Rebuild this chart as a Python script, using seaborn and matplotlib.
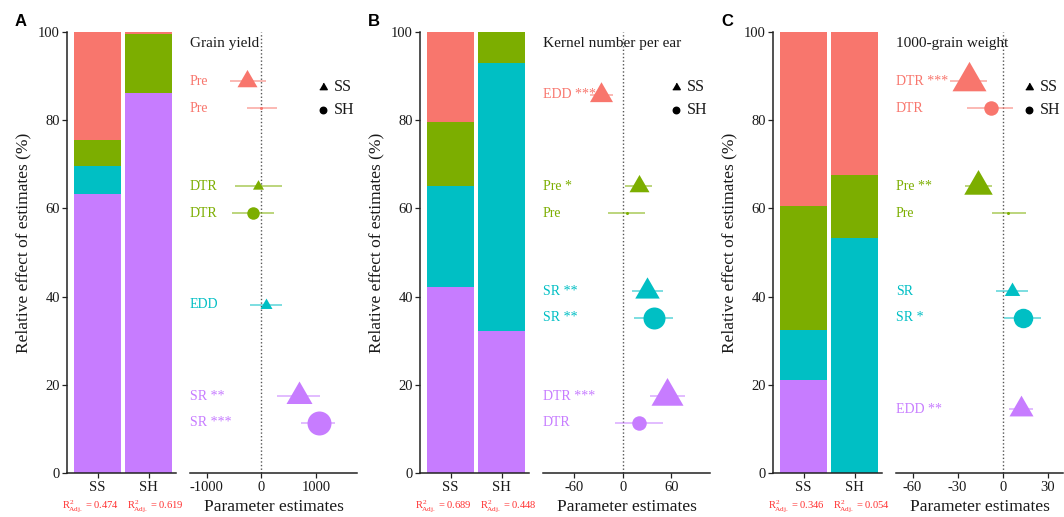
import numpy as np
import pandas as pd
import matplotlib
matplotlib.use("Agg")
import matplotlib.pyplot as plt
import matplotlib.transforms as mtransforms
from matplotlib.lines import Line2D
import seaborn as sns

# ---------------- data ----------------
models = ["SS", "SH"]
rank_colors = ["#F8766D", "#7CAE00", "#00BFC4", "#C77CFF"]  # rank 1..4 (top to bottom)

# A: grain yield
a_title = "Grain yield"
a_vars = ["Pre", "DTR", "EDD", "SR"]
a_share_ss = [24.5, 5.9, 6.3, 63.3]
a_share_sh = [0.5, 13.3, 0.0, 86.2]
a_est_ss = [-262, -59, 79, 691]
a_lo_ss = [-582, -477, -202, 288]
a_hi_ss = [86, 367, 367, 1070]
a_sig_ss = ["", "", "", "**"]
a_est_sh = [0, -150, np.nan, 1046]
a_lo_sh = [-262, -538, np.nan, 716]
a_hi_sh = [288, 238, np.nan, 1345]
a_sig_sh = ["", "", "", "***"]
a_r2 = ["0.474", "0.619"]
a_ticks = [-1000, 0, 1000]
a_xlim = (-1310, 1750)

# B: kernel number per ear
b_title = "Kernel number per ear"
b_vars = ["EDD", "Pre", "SR", "DTR"]
b_share_ss = [20.4, 14.5, 22.9, 42.2]
b_share_sh = [0.0, 7.0, 60.8, 32.2]
b_est_ss = [-26.6, 19.4, 29.9, 55.0]
b_lo_ss = [-41.0, 3.1, 11.4, 34.0]
b_hi_ss = [-12.1, 36.0, 49.3, 77.4]
b_sig_ss = ["***", "*", "**", "***"]
b_est_sh = [np.nan, 5.1, 38.1, 20.4]
b_lo_sh = [np.nan, -18.0, 13.4, -9.3]
b_hi_sh = [np.nan, 27.8, 61.6, 49.3]
b_sig_sh = ["", "", "**", ""]
b_r2 = ["0.689", "0.448"]
b_ticks = [-60, 0, 60]
b_xlim = (-99, 108)

# C: 1000-grain weight
c_title = "1000-grain weight"
c_vars = ["DTR", "Pre", "SR", "EDD"]
c_share_ss = [39.5, 28.1, 11.3, 21.1]
c_share_sh = [32.5, 14.2, 53.3, 0.0]
c_est_ss = [-22.2, -16.5, 6.0, 12.2]
c_lo_ss = [-35.3, -25.3, -4.7, 4.0]
c_hi_ss = [-10.2, -6.9, 16.9, 19.8]
c_sig_ss = ["***", "**", "", "**"]
c_est_sh = [-8.0, 3.5, 13.3, np.nan]
c_lo_sh = [-23.5, -7.5, 0.7, np.nan]
c_hi_sh = [6.9, 15.3, 25.1, np.nan]
c_sig_sh = ["", "", "*", ""]
c_r2 = ["0.346", "0.054"]
c_ticks = [-60, -30, 0, 30]
c_xlim = (-71, 40)

# ---------------- marker styling (pixel widths) ----------------
a_tri_px = [20, 11, 12, 26]
a_dot_px = [3, 12.5, 0, 24]
b_tri_px = [23, 20, 24.5, 32]
b_dot_px = [0, 3, 22, 14.5]
c_tri_px = [34, 28.5, 15.5, 24]
c_dot_px = [14.5, 3, 19.5, 0]

panels = [
    dict(letter="A", title=a_title, vars=a_vars, share_ss=a_share_ss, share_sh=a_share_sh,
         est_ss=a_est_ss, lo_ss=a_lo_ss, hi_ss=a_hi_ss, sig_ss=a_sig_ss,
         est_sh=a_est_sh, lo_sh=a_lo_sh, hi_sh=a_hi_sh, sig_sh=a_sig_sh,
         r2=a_r2, ticks=a_ticks, xlim=a_xlim, tri=a_tri_px, dot=a_dot_px),
    dict(letter="B", title=b_title, vars=b_vars, share_ss=b_share_ss, share_sh=b_share_sh,
         est_ss=b_est_ss, lo_ss=b_lo_ss, hi_ss=b_hi_ss, sig_ss=b_sig_ss,
         est_sh=b_est_sh, lo_sh=b_lo_sh, hi_sh=b_hi_sh, sig_sh=b_sig_sh,
         r2=b_r2, ticks=b_ticks, xlim=b_xlim, tri=b_tri_px, dot=b_dot_px),
    dict(letter="C", title=c_title, vars=c_vars, share_ss=c_share_ss, share_sh=c_share_sh,
         est_ss=c_est_ss, lo_ss=c_lo_ss, hi_ss=c_hi_ss, sig_ss=c_sig_ss,
         est_sh=c_est_sh, lo_sh=c_lo_sh, hi_sh=c_hi_sh, sig_sh=c_sig_sh,
         r2=c_r2, ticks=c_ticks, xlim=c_xlim, tri=c_tri_px, dot=c_dot_px),
]

# ---------------- style ----------------
sns.set_theme(style="ticks")
plt.rcParams["font.family"] = ["Liberation Serif", "DejaVu Serif"]
plt.rcParams["mathtext.fontset"] = "custom"
plt.rcParams["mathtext.rm"] = "Liberation Serif"
plt.rcParams["mathtext.it"] = "Liberation Serif:italic"
plt.rcParams["mathtext.bf"] = "Liberation Serif:bold"
plt.rcParams["axes.unicode_minus"] = False

INK = "#1a1a1a"
SPINE = "#222222"
W, H = 1064, 517
PX2PT = 72 / 100

# equilateral triangle centred on its centroid
TRI = [(-1.0, -0.57735), (1.0, -0.57735), (0.0, 1.1547)]
TRI_SCALE = 0.866  # rendered width relative to marker size


def rect(x0, y0, x1, y1):
    return [x0 / W, 1 - y1 / H, (x1 - x0) / W, (y1 - y0) / H]


def tri_area(px):
    return (px * PX2PT / TRI_SCALE) ** 2


def dot_area(px):
    return (px * PX2PT) ** 2


fig = plt.figure(figsize=(W / 100, H / 100), dpi=100)

slot_centres = [85.8 - 23.8 * i for i in range(4)]
pair_gap = 3.05

for k, p in enumerate(panels):
    off = 353 * k

    # ---- stacked relative-effect bars ----
    axb = fig.add_axes(rect(67 + off, 32, 176 + off, 473))
    shares = np.array([p["share_ss"], p["share_sh"]])  # rows: model, cols: rank
    # stack bottom -> top is rank 4 -> rank 1; draw cumulative heights from the top down
    for r in range(4):
        cum = shares[:, r:].sum(axis=1)
        df = pd.DataFrame({"model": models, "value": cum})
        sns.barplot(data=df, x="model", y="value", order=models, color=rank_colors[r],
                    saturation=1, width=0.92, errorbar=None, linewidth=0,
                    edgecolor="none", ax=axb)
    axb.set_xlim(-0.598, 1.539)
    axb.set_ylim(0, 100)
    axb.set_yticks([0, 20, 40, 60, 80, 100])
    axb.set_xlabel("")
    axb.set_ylabel("")
    for s in ["top", "right"]:
        axb.spines[s].set_visible(False)
    for s in ["left", "bottom"]:
        axb.spines[s].set_color(SPINE)
        axb.spines[s].set_linewidth(1.1)
    axb.tick_params(axis="y", length=3.8, width=0.9, pad=1.2, labelsize=10.5,
                    colors=SPINE, labelcolor=INK)
    axb.tick_params(axis="x", length=3.8, width=0.9, pad=2.0, labelsize=10.5,
                    colors=SPINE, labelcolor=INK)

    # adjusted R^2 under each bar
    tr = mtransforms.blended_transform_factory(axb.transData, fig.transFigure)
    for xi, val in zip([-0.14, 1.14], p["r2"]):
        axb.text(xi, 1 - 506 / H, r"$\mathrm{R}^{2}_{\!\mathrm{Adj.}}$ = " + val,
                 transform=tr, ha="center", va="center", fontsize=7.6,
                 color="#FF3030", clip_on=False)

    fig.text((23 + off) / W, 1 - 243 / H, "Relative effect of estimates (%)",
             rotation=90, ha="center", va="center", fontsize=12.5, color=INK)
    fig.text((21 + off) / W, 1 - 21 / H, p["letter"], ha="center", va="center",
             fontsize=12, fontweight="bold", family="Liberation Sans", color="black")

    # ---- parameter estimates ----
    axf = fig.add_axes(rect(190 + off, 32, 357 + off, 473))
    axf.set_xlim(*p["xlim"])
    axf.set_ylim(0, 100)
    axf.axvline(0, color="#555555", lw=1.0, ls=(0, (1, 1.6)), zorder=1)
    ytr = mtransforms.blended_transform_factory(axf.transAxes, axf.transData)

    for i, var in enumerate(p["vars"]):
        col = rank_colors[i]
        has_ss = not np.isnan(p["est_ss"][i])
        has_sh = not np.isnan(p["est_sh"][i])
        if has_ss and has_sh:
            ys = [slot_centres[i] + pair_gap, slot_centres[i] - pair_gap]
        else:
            ys = [slot_centres[i], slot_centres[i]]
        rows = [("ss", ys[0], TRI, tri_area(p["tri"][i]), has_ss),
                ("sh", ys[1], "o", dot_area(p["dot"][i]), has_sh)]
        for key, y, mk, area, present in rows:
            if not present:
                continue
            est = p["est_" + key][i]
            lo = p["lo_" + key][i]
            hi = p["hi_" + key][i]
            axf.plot([lo, hi], [y, y], color=col, lw=1.1, alpha=0.65,
                     solid_capstyle="butt", zorder=2)
            sns.scatterplot(x=[est], y=[y], marker=mk, s=area, color=col,
                            linewidth=0, legend=False, ax=axf, zorder=3)
            label = (var + " " + p["sig_" + key][i]).strip()
            axf.text(0.0, y, label, transform=ytr, ha="left", va="center",
                     fontsize=10, color=col)

    axf.text(0.0, 97.4, p["title"], transform=ytr, ha="left", va="center",
             fontsize=11, color=INK)

    axf.set_xticks(p["ticks"])
    axf.set_xticklabels([str(t) for t in p["ticks"]])
    axf.set_yticks([])
    axf.set_xlabel("")
    axf.set_ylabel("")
    for s in ["top", "right", "left"]:
        axf.spines[s].set_visible(False)
    axf.spines["bottom"].set_color(SPINE)
    axf.spines["bottom"].set_linewidth(1.1)
    axf.tick_params(axis="x", length=3.8, width=0.9, pad=2.0, labelsize=10.5,
                    colors=SPINE, labelcolor=INK)
    fig.text((273.5 + off) / W, 1 - 507 / H, "Parameter estimates",
             ha="center", va="center", fontsize=12.5, color=INK)

    # ---- shape legend ----
    fig.add_artist(Line2D([(322.5 + off) / W], [1 - 87 / H], marker=TRI,
                          markersize=7.5 * PX2PT / TRI_SCALE, color="black", lw=0,
                          transform=fig.transFigure))
    fig.add_artist(Line2D([(322.5 + off) / W], [1 - 110 / H], marker="o",
                          markersize=6.5 * PX2PT, color="black", lw=0,
                          transform=fig.transFigure))
    fig.text((334 + off) / W, 1 - 87 / H, "SS", ha="left", va="center",
             fontsize=11.5, color=INK)
    fig.text((334 + off) / W, 1 - 110 / H, "SH", ha="left", va="center",
             fontsize=11.5, color=INK)

fig.savefig("out.png", dpi=100)
